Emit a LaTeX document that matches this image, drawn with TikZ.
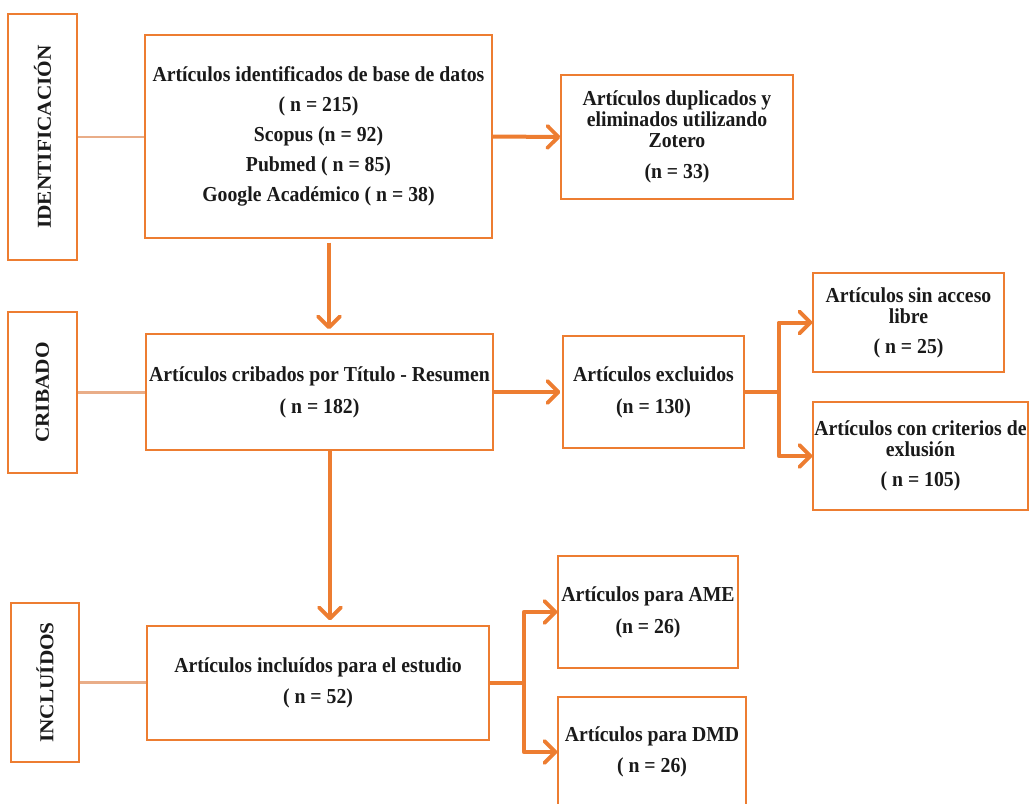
\documentclass[tikz,border=0pt]{standalone}
\usepackage{fontspec}
\setmainfont{Liberation Serif}[FakeStretch=0.927]
\newfontfamily\rotfont{Liberation Serif}[FakeStretch=1.078]
\usetikzlibrary{arrows.meta}
\definecolor{boxorange}{HTML}{ED7D31}
\definecolor{peach}{HTML}{E9AD88}
\definecolor{txt}{HTML}{1A1A1A}
\tikzset{
  box/.style={draw=boxorange, line width=1.4pt, inner sep=0pt, align=center,
    text=txt, font=\fontsize{21.3}{21}\selectfont\bfseries},
  phase/.style={draw=boxorange, line width=1.4pt, inner sep=0pt},
  phasetext/.style={rotate=90, text=txt, inner sep=0pt,
    font=\rotfont\fontsize{19.75}{21}\selectfont\bfseries},
  link/.style={draw=peach, line width=2.8pt},
  flow/.style={draw=boxorange, line width=4pt, line join=round,
    -{Straight Barb[length=11pt,width=22pt,line width=3.8pt,round]}},
  flowline/.style={draw=boxorange, line width=4pt, line join=round},
}
\begin{document}
\begin{tikzpicture}[x=1pt,y=-1pt]
\useasboundingbox (0,0) rectangle (1030,803);
\clip (0,0) rectangle (1030,803);
% phase labels
\node[phase, minimum width=69pt, minimum height=246pt] (ident) at (42.5,137) {};
\node[phasetext] (identt) at (ident.center) {IDENTIFICACIÓN};
\node[phase, minimum width=69pt, minimum height=161pt] (crib) at (42.5,392.5) {};
\node[phasetext] (cribt) at (crib.center) {CRIBADO};
\node[phase, minimum width=68pt, minimum height=159pt] (incl) at (45,682.5) {};
\node[phasetext] (inclt) at (incl.center) {INCLUÍDOS};
% main boxes
\node[box, minimum width=347pt, minimum height=203pt] (b1) at (318.5,136.5)
  {Artículos identificados de base de datos\\[9pt]( n = 215)\\[9pt]Scopus (n = 92)\\[9pt]Pubmed ( n = 85)\\[9pt]Google Académico ( n = 38)};
\node[box, minimum width=232pt, minimum height=124pt] (dup) at (677,137)
  {Artículos duplicados y\\eliminados utilizando\\Zotero\\[10pt](n = 33)};
\node[box, minimum width=347pt, minimum height=116pt] (b2) at (319.5,392)
  {Artículos cribados por Título - Resumen\\[11pt]( n = 182)};
\node[box, minimum width=181pt, minimum height=112pt] (excl) at (653.5,392)
  {Artículos excluidos\\[11pt](n = 130)};
\node[box, minimum width=191pt, minimum height=99pt] (sin) at (908.5,322.5)
  {Artículos sin acceso\\libre\\[9pt]( n = 25)};
\node[box, minimum width=215pt, minimum height=108pt] (crit) at (920.5,456)
  {Artículos con criterios de\\exlusión\\[9pt]( n = 105)};
\node[box, minimum width=342pt, minimum height=114pt] (b3) at (318,683)
  {Artículos incluídos para el estudio\\[10pt]( n = 52)};
\node[box, minimum width=180pt, minimum height=112pt] (ame) at (648,612)
  {Artículos para AME\\[11pt](n = 26)};
\node[box, minimum width=188pt, minimum height=110pt] (dmd) at (652,752)
  {Artículos para DMD\\[10pt]( n = 26)};
% phase links
\draw[link] (ident.east) -- (b1.west |- ident.east);
\draw[link] (crib.east) -- (b2.west |- crib.east);
\draw[link] (incl.east) -- (b3.west |- incl.east);
% flow arrows
\draw[flow] (b1.east) -- (dup.west);
\draw[flow] ([yshift=-4pt]b1.south -| 329,0) -- ([yshift=4pt]b2.north -| 329,0);
\draw[flow] (b2.east) -- ([xshift=-2pt]excl.west);
\draw[flow] (b2.south -| 330,0) -- ([yshift=5pt]b3.north -| 330,0);
\coordinate (j1) at ([xshift=34pt]excl.east);
\draw[flowline] (excl.east) -- (j1);
\draw[flow] (j1) |- (sin.west);
\draw[flow] (j1) |- (crit.west);
\coordinate (j2) at ([xshift=34pt]b3.east);
\draw[flowline] (b3.east) -- (j2);
\draw[flow] (j2) |- (ame.west);
\draw[flow] (j2) |- (dmd.west);
\end{tikzpicture}
\end{document}
